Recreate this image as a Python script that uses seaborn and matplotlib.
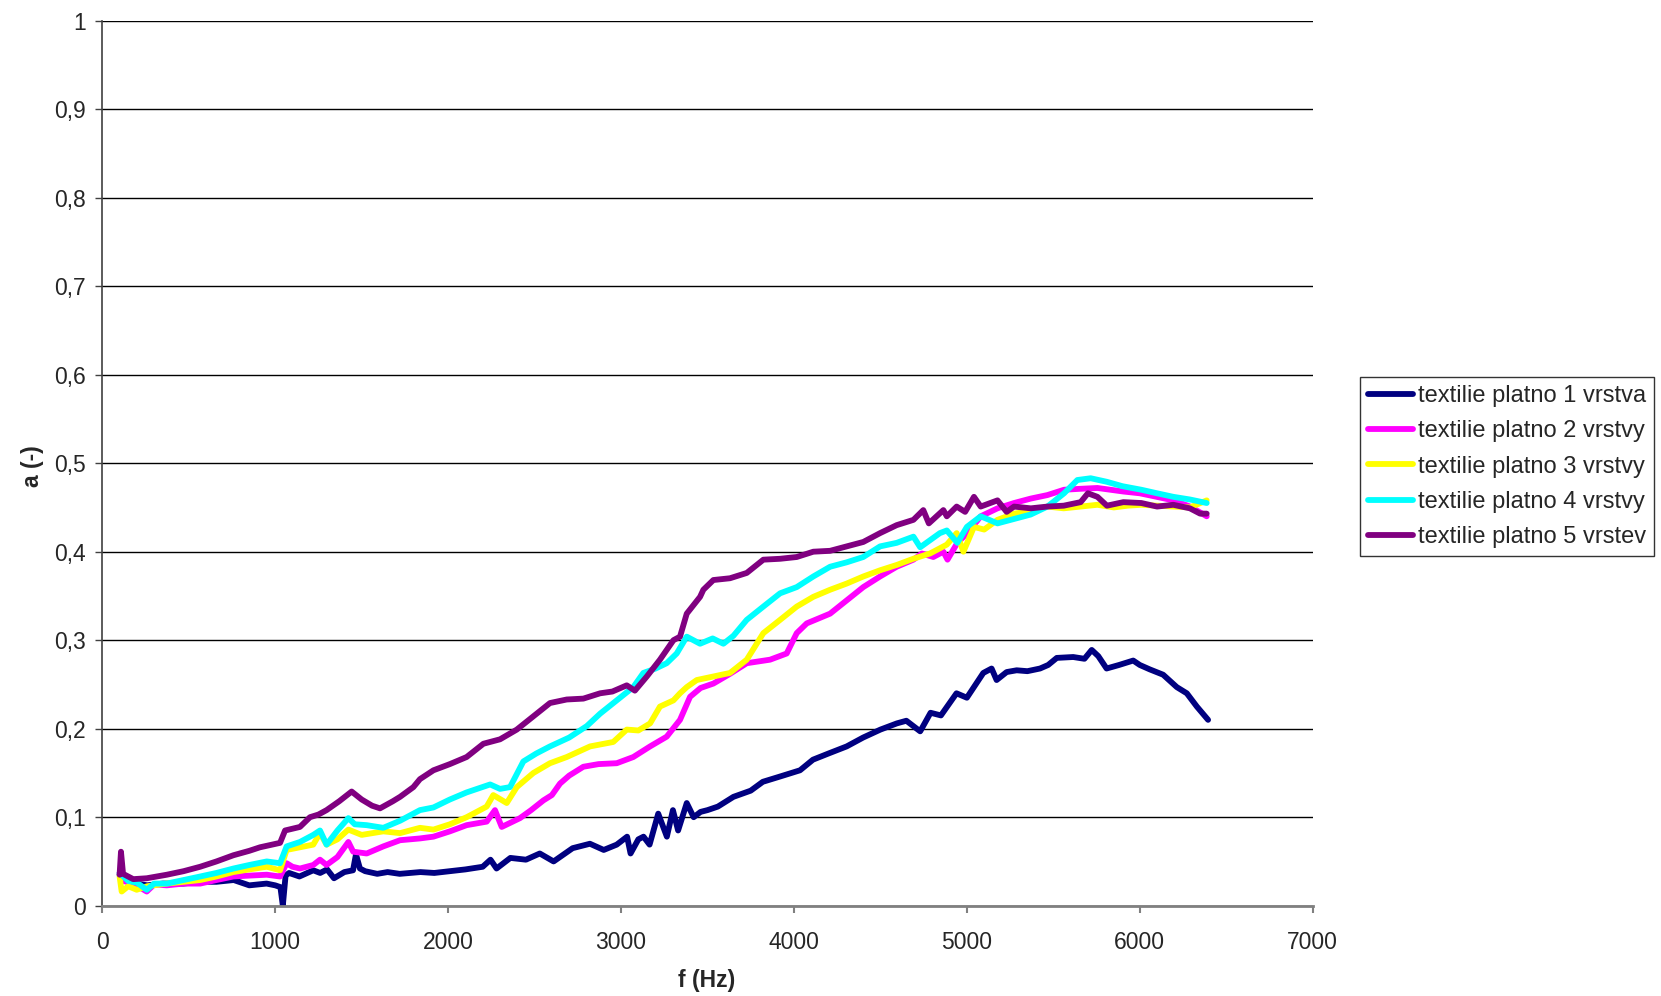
import matplotlib
matplotlib.use("Agg")
import matplotlib.pyplot as plt
from matplotlib.lines import Line2D
from matplotlib.ticker import FuncFormatter, MultipleLocator
import seaborn as sns
import pandas as pd

# ---------------- data ----------------
labels = ["textilie platno 1 vrstva", "textilie platno 2 vrstvy", "textilie platno 3 vrstvy",
          "textilie platno 4 vrstvy", "textilie platno 5 vrstev"]
colors = ["#000080", "#FF00FF", "#FFFF00", "#00FFFF", "#800080"]

f1 = [100, 110, 150, 200, 260, 350, 470, 560, 660, 760, 850, 950, 1000, 1030, 1044, 1060, 1080, 1140,
      1220, 1260, 1300, 1340, 1400, 1450, 1467, 1490, 1520, 1590, 1650, 1720, 1840, 1920, 2010, 2100,
      2200, 2245, 2280, 2360, 2450, 2530, 2610, 2720, 2820, 2900, 2975, 3035, 3055, 3100, 3130, 3165,
      3215, 3265, 3300, 3330, 3380, 3420, 3460, 3500, 3560, 3650, 3750, 3820, 3920, 4035, 4110, 4200,
      4305, 4400, 4500, 4595, 4650, 4730, 4790, 4850, 4940, 5000, 5095, 5143, 5172, 5230, 5288, 5350,
      5423, 5470, 5520, 5615, 5680, 5722, 5760, 5808, 5880, 5962, 6000, 6058, 6135, 6214, 6272, 6330, 6395]
a1 = [0.035, 0.030, 0.027, 0.025, 0.023, 0.025, 0.025, 0.027, 0.027, 0.029, 0.023, 0.025, 0.023, 0.021,
      0.000, 0.034, 0.037, 0.033, 0.040, 0.037, 0.041, 0.031, 0.038, 0.040, 0.058, 0.042, 0.039, 0.036,
      0.038, 0.036, 0.038, 0.037, 0.039, 0.041, 0.044, 0.052, 0.042, 0.054, 0.052, 0.059, 0.050, 0.065,
      0.070, 0.063, 0.069, 0.078, 0.059, 0.075, 0.078, 0.069, 0.104, 0.078, 0.108, 0.085, 0.116, 0.100,
      0.106, 0.108, 0.112, 0.123, 0.130, 0.140, 0.146, 0.153, 0.165, 0.172, 0.180, 0.190, 0.199, 0.206,
      0.209, 0.197, 0.218, 0.215, 0.240, 0.235, 0.263, 0.268, 0.255, 0.264, 0.266, 0.265, 0.268, 0.272,
      0.280, 0.281, 0.279, 0.289, 0.282, 0.268, 0.272, 0.277, 0.272, 0.267, 0.261, 0.247, 0.240, 0.225, 0.210]

f2 = [100, 120, 180, 257, 300, 373, 470, 566, 660, 758, 850, 951, 1028, 1066, 1100, 1143, 1220, 1259,
      1297, 1360, 1423, 1451, 1529, 1625, 1722, 1837, 1915, 2010, 2107, 2223, 2271, 2310, 2416, 2480,
      2551, 2600, 2647, 2700, 2782, 2870, 2975, 3071, 3168, 3264, 3341, 3399, 3460, 3534, 3630, 3727,
      3862, 3958, 4016, 4074, 4209, 4305, 4401, 4498, 4594, 4691, 4740, 4806, 4864, 4888, 4945, 5003,
      5080, 5177, 5273, 5369, 5466, 5562, 5650, 5755, 5905, 6000, 6098, 6194, 6291, 6387]
a2 = [0.037, 0.028, 0.025, 0.016, 0.024, 0.023, 0.025, 0.025, 0.029, 0.033, 0.034, 0.035, 0.033, 0.048,
      0.044, 0.042, 0.046, 0.052, 0.046, 0.055, 0.072, 0.061, 0.059, 0.067, 0.074, 0.076, 0.078, 0.084,
      0.091, 0.095, 0.108, 0.089, 0.099, 0.108, 0.119, 0.125, 0.138, 0.147, 0.157, 0.160, 0.161, 0.168,
      0.180, 0.191, 0.210, 0.236, 0.246, 0.251, 0.262, 0.274, 0.278, 0.285, 0.308, 0.319, 0.330, 0.345,
      0.360, 0.372, 0.383, 0.391, 0.398, 0.394, 0.400, 0.391, 0.410, 0.421, 0.440, 0.449, 0.455, 0.460,
      0.464, 0.470, 0.471, 0.472, 0.468, 0.466, 0.462, 0.458, 0.451, 0.440]

f3 = [100, 112, 150, 199, 260, 373, 470, 566, 660, 758, 850, 951, 1028, 1066, 1143, 1220, 1259, 1297,
      1360, 1423, 1500, 1625, 1722, 1837, 1915, 2010, 2107, 2223, 2261, 2339, 2397, 2493, 2589, 2686,
      2821, 2955, 3033, 3100, 3168, 3225, 3303, 3341, 3380, 3438, 3534, 3630, 3727, 3823, 3920, 4016,
      4112, 4209, 4305, 4401, 4498, 4594, 4690, 4787, 4884, 4941, 4980, 5041, 5100, 5177, 5273, 5370,
      5466, 5560, 5658, 5755, 5850, 5930, 6009, 6100, 6194, 6290, 6387]
a3 = [0.033, 0.016, 0.022, 0.018, 0.022, 0.025, 0.027, 0.029, 0.033, 0.038, 0.041, 0.044, 0.040, 0.063,
      0.066, 0.069, 0.082, 0.069, 0.075, 0.086, 0.080, 0.084, 0.082, 0.088, 0.086, 0.092, 0.100, 0.112,
      0.125, 0.116, 0.134, 0.150, 0.161, 0.168, 0.180, 0.185, 0.199, 0.198, 0.206, 0.225, 0.232, 0.240,
      0.247, 0.255, 0.259, 0.263, 0.278, 0.308, 0.323, 0.338, 0.349, 0.357, 0.364, 0.372, 0.379, 0.385,
      0.392, 0.398, 0.408, 0.421, 0.400, 0.428, 0.425, 0.436, 0.443, 0.446, 0.451, 0.449, 0.451, 0.453,
      0.450, 0.452, 0.453, 0.452, 0.451, 0.450, 0.458]

f4 = [100, 150, 200, 257, 300, 373, 470, 566, 660, 758, 850, 951, 1028, 1066, 1143, 1220, 1259, 1297,
      1360, 1423, 1460, 1529, 1625, 1722, 1837, 1915, 2010, 2107, 2243, 2300, 2358, 2435, 2510, 2589,
      2700, 2802, 2879, 2975, 3071, 3129, 3200, 3264, 3322, 3380, 3457, 3530, 3592, 3650, 3727, 3823,
      3920, 4016, 4112, 4209, 4305, 4401, 4498, 4594, 4691, 4730, 4844, 4884, 4945, 5000, 5080, 5177,
      5273, 5369, 5466, 5562, 5639, 5716, 5809, 5900, 6009, 6100, 6194, 6290, 6387]
a4 = [0.037, 0.028, 0.026, 0.018, 0.025, 0.025, 0.029, 0.033, 0.037, 0.042, 0.046, 0.050, 0.048, 0.067,
      0.072, 0.080, 0.085, 0.069, 0.085, 0.099, 0.092, 0.091, 0.088, 0.096, 0.108, 0.111, 0.120, 0.128,
      0.137, 0.132, 0.134, 0.163, 0.172, 0.180, 0.190, 0.203, 0.217, 0.232, 0.247, 0.263, 0.268, 0.274,
      0.285, 0.304, 0.296, 0.302, 0.296, 0.305, 0.323, 0.338, 0.353, 0.360, 0.372, 0.383, 0.388, 0.394,
      0.406, 0.410, 0.417, 0.405, 0.421, 0.424, 0.410, 0.428, 0.440, 0.432, 0.437, 0.442, 0.451, 0.466,
      0.481, 0.483, 0.479, 0.474, 0.470, 0.466, 0.462, 0.459, 0.455]

f5 = [100, 108, 120, 179, 257, 373, 470, 566, 660, 758, 850, 912, 1028, 1057, 1143, 1201, 1250, 1297,
      1370, 1442, 1500, 1560, 1606, 1680, 1722, 1799, 1837, 1915, 2010, 2107, 2204, 2300, 2397, 2493,
      2589, 2686, 2782, 2879, 2950, 3033, 3080, 3149, 3225, 3303, 3341, 3380, 3457, 3476, 3534, 3630,
      3727, 3823, 3920, 4016, 4112, 4209, 4305, 4401, 4498, 4594, 4691, 4748, 4780, 4864, 4884, 4941,
      4990, 5041, 5080, 5177, 5230, 5273, 5370, 5466, 5560, 5658, 5700, 5755, 5810, 5905, 6009, 6100,
      6194, 6290, 6349, 6387]
a5 = [0.035, 0.061, 0.036, 0.030, 0.031, 0.035, 0.039, 0.044, 0.050, 0.057, 0.062, 0.066, 0.071, 0.085,
      0.089, 0.100, 0.103, 0.108, 0.118, 0.129, 0.120, 0.113, 0.110, 0.118, 0.123, 0.134, 0.143, 0.153,
      0.160, 0.168, 0.183, 0.188, 0.199, 0.214, 0.229, 0.233, 0.234, 0.240, 0.242, 0.249, 0.243, 0.259,
      0.278, 0.300, 0.304, 0.330, 0.349, 0.357, 0.368, 0.370, 0.376, 0.391, 0.392, 0.394, 0.400, 0.401,
      0.406, 0.411, 0.421, 0.430, 0.436, 0.447, 0.432, 0.447, 0.440, 0.451, 0.445, 0.462, 0.451, 0.458,
      0.445, 0.451, 0.449, 0.451, 0.452, 0.456, 0.466, 0.462, 0.452, 0.456, 0.455, 0.451, 0.453, 0.449,
      0.443, 0.443]

x_ticks = [0, 1000, 2000, 3000, 4000, 5000, 6000, 7000]
x_label = "f (Hz)"
y_label = "a (-)"

# ---------------- build long table ----------------
frames = []
for lab, fx, ay in zip(labels, [f1, f2, f3, f4, f5], [a1, a2, a3, a4, a5]):
    frames.append(pd.DataFrame({"f": fx, "a": ay, "series": lab}))
df = pd.concat(frames, ignore_index=True)

sns.set_style("white")
plt.rcParams["font.family"] = ["Liberation Sans", "DejaVu Sans"]

W, H = 1661, 996
fig = plt.figure(figsize=(W / 100, H / 100), dpi=100)
left, right, top, bottom = 102.3, 1312.7, 20.7, 905.7
ax = fig.add_axes([left / W, 1 - bottom / H, (right - left) / W, (bottom - top) / H])

palette = dict(zip(labels, colors))
sns.lineplot(data=df, x="f", y="a", hue="series", hue_order=labels, palette=palette,
             estimator=None, sort=False, linewidth=4.2, ax=ax, legend=False,
             solid_joinstyle="round", solid_capstyle="round")

ax.set_xlim(0, 7000)
ax.set_ylim(0, 1)
ax.set_xticks(x_ticks)
ax.yaxis.set_major_locator(MultipleLocator(0.1))


def yfmt(v, pos):
    if abs(v) < 1e-9:
        return "0"
    if abs(v - 1) < 1e-9:
        return "1"
    return f"{v:.1f}".replace(".", ",")


ax.yaxis.set_major_formatter(FuncFormatter(yfmt))
ax.set_xlabel("")
ax.set_ylabel("")

ax.grid(False)
ax.yaxis.grid(True, color="#000000", linewidth=1.0)
ax.set_axisbelow(True)
for s in ["top", "right"]:
    ax.spines[s].set_visible(False)
ax.spines["left"].set_color("#404040")
ax.spines["left"].set_linewidth(1.2)
ax.spines["bottom"].set_color("#808080")
ax.spines["bottom"].set_linewidth(2.0)
ax.tick_params(axis="y", direction="out", length=4.8, width=1.0, color="#404040",
               labelsize=16.5, pad=7, left=True)
ax.tick_params(axis="x", direction="out", length=5.0, width=1.5, color="#808080",
               labelsize=16.5, pad=13, bottom=True)

fig.text(32 / W, 0.532, y_label, rotation=90, ha="center", va="center",
         fontsize=16.5, fontweight="bold")
fig.text(707 / W, 1 - 980 / H, x_label, ha="center", va="center",
         fontsize=16.5, fontweight="bold")

handles = [Line2D([0], [0], color=c, lw=4.2) for c in colors]
leg = fig.legend(handles, labels, loc="upper left", bbox_to_anchor=(1360 / W, 1 - 377 / H),
                 bbox_transform=fig.transFigure, frameon=True, fancybox=False, shadow=False,
                 fontsize=17, handlelength=1.9, handletextpad=0.2, labelspacing=0.56,
                 borderpad=0.35, borderaxespad=0.0)
leg.get_frame().set_edgecolor("#000000")
leg.get_frame().set_linewidth(1.0)

fig.savefig("out.png", dpi=100)
